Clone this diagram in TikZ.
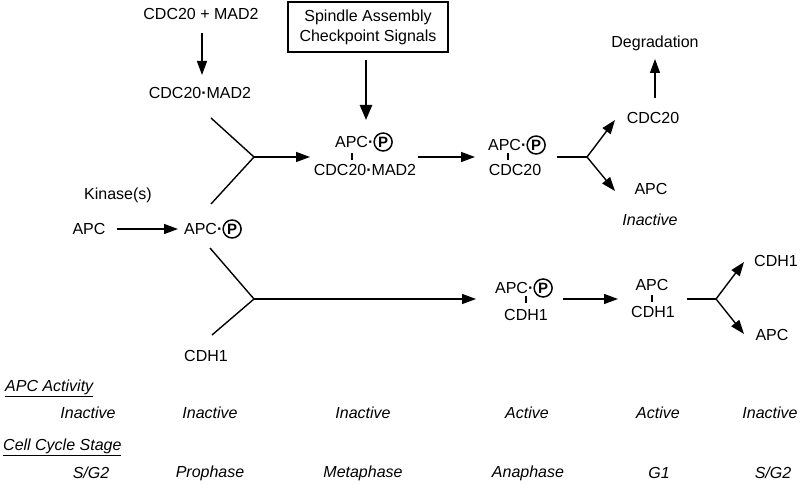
\documentclass[tikz,border=0pt]{standalone}
\usepackage{fontspec}
\setmainfont{Liberation Sans}
\usetikzlibrary{arrows.meta}
\newcommand{\phos}{\tikz[baseline=(pp.base)]\node[circle,draw,line width=1.5pt,inner sep=0pt,minimum size=18pt,font=\bfseries\fontsize{15}{15}\selectfont](pp){P};}
\newcommand{\bdot}{{\bfseries ·}}
\tikzset{
  lbl/.style={inner sep=0pt, font=\fontsize{16}{19}\selectfont},
  itl/.style={inner sep=0pt, font=\fontsize{16}{19}\selectfont\itshape},
  ln/.style={line width=1.4pt},
  ar/.style={line width=1.4pt, -{Triangle[length=14pt,width=10pt]}},
  thickar/.style={line width=2.6pt, -{Triangle[length=15pt,width=12pt]}},
  bond/.style={line width=1.8pt},
  boxn/.style={draw, line width=1.4pt, inner sep=0pt, minimum width=160pt, minimum height=50pt, align=center, font=\fontsize{16}{20}\selectfont}
}
\begin{document}
\begin{tikzpicture}[x=1pt,y=-1pt]
\useasboundingbox (0,0) rectangle (800,484);
% nodes
\node[lbl] (cm) at (201,14) {CDC20 + MAD2};
\node[lbl] (cmd) at (200,93) {CDC20\bdot MAD2};
\node[boxn] (box) at (368,27) {Spindle Assembly\\Checkpoint Signals};
\node[lbl] (kin) at (118,195) {Kinase(s)};
\node[lbl] (apc0) at (89,229) {APC};
\node[lbl] (apcp) at (213,229) {APC\bdot\phos};
\node[lbl] (cdh) at (206,356) {CDH1};
\node[lbl] (m1a) at (364,142) {APC\bdot\phos};
\node[lbl] (m1b) at (365,170) {CDC20\bdot MAD2};
\node[lbl] (m2a) at (517,145) {APC\bdot\phos};
\node[lbl] (m2b) at (515,170) {CDC20};
\node[lbl] (cdc) at (653,118) {CDC20};
\node[lbl] (deg) at (655,43) {Degradation};
\node[lbl] (apc2) at (651,189) {APC};
\node[itl] (inact) at (650,220) {Inactive};
\node[lbl] (a1a) at (524,288) {APC\bdot\phos};
\node[lbl] (a1b) at (526,315) {CDH1};
\node[lbl] (a2a) at (652,285) {APC};
\node[lbl] (a2b) at (653,312) {CDH1};
\node[lbl] (cdh2) at (776,261) {CDH1};
\node[lbl] (apc3) at (772,335) {APC};
% coordinates
\coordinate (c1s) at (202,33); \coordinate (c1e) at (202,75);
\coordinate (t1s) at (366,60); \coordinate (t1e) at (366,120);
\coordinate (j1u) at (211,118); \coordinate (j1) at (254,157); \coordinate (j1l) at (211,204);
\coordinate (j1e) at (310,157);
\coordinate (m1r) at (418,157); \coordinate (m2l) at (475,157);
\coordinate (m2r) at (557,157); \coordinate (j2) at (587,157);
\coordinate (j2u) at (615,120); \coordinate (j2d) at (615,191);
\coordinate (ds) at (655,98); \coordinate (de) at (655,59);
\coordinate (ks) at (117,229); \coordinate (ke) at (178,229);
\coordinate (j3u) at (210,248); \coordinate (j3) at (254,299); \coordinate (j3l) at (212,335);
\coordinate (j3e) at (476,299);
\coordinate (a1r) at (563,299); \coordinate (a2l) at (618,299);
\coordinate (a2r) at (687,299); \coordinate (j4) at (716,299);
\coordinate (j4u) at (744,262); \coordinate (j4d) at (744,334);
% connectors
\draw[ar] (c1s) -- (c1e);
\draw[thickar] (t1s) -- (t1e);
\draw[ln] (j1u) -- (j1) -- (j1l);
\draw[ar] (j1) -- (j1e);
\draw[ar] (m1r) -- (m2l);
\draw[ln] (m2r) -- (j2);
\draw[ar] (j2) -- (j2u);
\draw[ar] (j2) -- (j2d);
\draw[ar] (ds) -- (de);
\draw[ar] (ks) -- (ke);
\draw[ln] (j3u) -- (j3) -- (j3l);
\draw[ar] (j3) -- (j3e);
\draw[ar] (a1r) -- (a2l);
\draw[ln] (a2r) -- (j4);
\draw[ar] (j4) -- (j4u);
\draw[ar] (j4) -- (j4d);
% bonds
\draw[bond] (352,153) -- (352,160);
\draw[bond] (508,153) -- (508,160);
\draw[bond] (526,296) -- (526,303);
\draw[bond] (652,295) -- (652,302);
% bottom table
\node[itl, anchor=west] (acth) at (5,388) {\underline{APC Activity}};
\node[itl] (act1) at (88,413) {Inactive};
\node[itl] (act2) at (210,413) {Inactive};
\node[itl] (act3) at (363,413) {Inactive};
\node[itl] (act4) at (527,413) {Active};
\node[itl] (act5) at (658,413) {Active};
\node[itl] (act6) at (770,413) {Inactive};
\node[itl, anchor=west] (stgh) at (3,447) {\underline{Cell Cycle Stage}};
\node[itl] (stg1) at (91,473) {S/G2};
\node[itl] (stg2) at (210,473) {Prophase};
\node[itl] (stg3) at (363,473) {Metaphase};
\node[itl] (stg4) at (528,473) {Anaphase};
\node[itl] (stg5) at (659,473) {G1};
\node[itl] (stg6) at (773,473) {S/G2};
\end{tikzpicture}
\end{document}
